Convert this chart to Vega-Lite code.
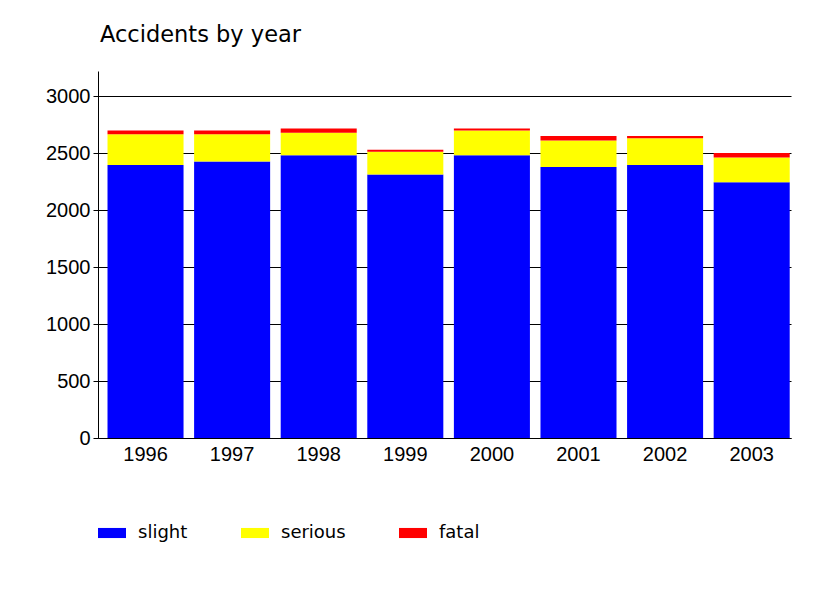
{
  "$schema": "https://vega.github.io/schema/vega-lite/v6.json",
  "width": 693,
  "height": 367,
  "padding": {"left": 45, "top": 23, "right": 30, "bottom": 5},
  "background": "white",
  "title": {"text": "Accidents by year", "anchor": "start", "frame": "group", "dx": 2, "font": "DejaVu Sans", "fontSize": 22.5, "fontWeight": "normal", "color": "black", "offset": 25},
  "data": {"values": [
    {"year": "1996", "type": "slight", "rank": 1, "count": 2395},
    {"year": "1996", "type": "serious", "rank": 2, "count": 269},
    {"year": "1996", "type": "fatal", "rank": 3, "count": 35},
    {"year": "1997", "type": "slight", "rank": 1, "count": 2427},
    {"year": "1997", "type": "serious", "rank": 2, "count": 237},
    {"year": "1997", "type": "fatal", "rank": 3, "count": 35},
    {"year": "1998", "type": "slight", "rank": 1, "count": 2480},
    {"year": "1998", "type": "serious", "rank": 2, "count": 198},
    {"year": "1998", "type": "fatal", "rank": 3, "count": 38},
    {"year": "1999", "type": "slight", "rank": 1, "count": 2313},
    {"year": "1999", "type": "serious", "rank": 2, "count": 199},
    {"year": "1999", "type": "fatal", "rank": 3, "count": 17},
    {"year": "2000", "type": "slight", "rank": 1, "count": 2480},
    {"year": "2000", "type": "serious", "rank": 2, "count": 219},
    {"year": "2000", "type": "fatal", "rank": 3, "count": 17},
    {"year": "2001", "type": "slight", "rank": 1, "count": 2377},
    {"year": "2001", "type": "serious", "rank": 2, "count": 234},
    {"year": "2001", "type": "fatal", "rank": 3, "count": 38},
    {"year": "2002", "type": "slight", "rank": 1, "count": 2395},
    {"year": "2002", "type": "serious", "rank": 2, "count": 234},
    {"year": "2002", "type": "fatal", "rank": 3, "count": 20},
    {"year": "2003", "type": "slight", "rank": 1, "count": 2243},
    {"year": "2003", "type": "serious", "rank": 2, "count": 219},
    {"year": "2003", "type": "fatal", "rank": 3, "count": 38}
  ]},
  "mark": {"type": "bar", "strokeWidth": 0},
  "encoding": {
    "x": {
      "field": "year", "type": "ordinal",
      "scale": {"paddingInner": 0.122, "paddingOuter": 0.0624, "align": 0.88},
      "axis": {"title": null, "labelAngle": 0, "ticks": false, "labelPadding": 6, "labelFont": "Liberation Sans", "labelFontSize": 20, "labelColor": "black", "domainColor": "black", "domainWidth": 1, "grid": false}
    },
    "y": {
      "field": "count", "type": "quantitative", "stack": "zero",
      "scale": {"domain": [0, 3220], "nice": false},
      "axis": {"title": null, "values": [0, 500, 1000, 1500, 2000, 2500, 3000], "format": "d", "grid": true, "gridColor": "black", "gridOpacity": 1, "gridWidth": 1, "tickColor": "black", "tickSize": 5, "tickWidth": 1, "labelPadding": 3, "domainColor": "black", "domainWidth": 1, "labelFont": "Liberation Sans", "labelFontSize": 20, "labelColor": "black"}
    },
    "color": {
      "field": "type", "type": "nominal",
      "scale": {"domain": ["slight", "serious", "fatal"], "range": ["#0000ff", "#ffff00", "#ff0000"]},
      "legend": {"orient": "bottom", "direction": "horizontal", "title": null, "symbolType": "M-1,-0.36H1V0.36H-1Z", "symbolSize": 784, "symbolStrokeWidth": 0, "symbolOpacity": 1, "labelFont": "DejaVu Sans", "labelFontSize": 18, "labelColor": "black", "labelOffset": 12, "columnPadding": 53, "offset": 55}
    },
    "order": {"field": "rank", "type": "quantitative"}
  },
  "config": {"view": {"stroke": null}}
}
